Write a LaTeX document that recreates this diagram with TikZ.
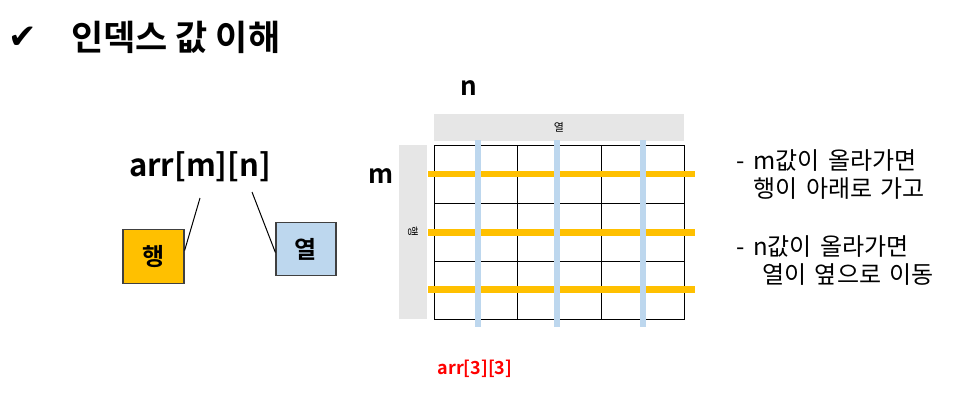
\documentclass[tikz,border=0pt]{standalone}
\usepackage{fontspec}
\setmainfont{Noto Sans CJK KR}[BoldFont={Noto Sans CJK KR Bold}]
\newfontfamily\symfont{DejaVu Sans}
\newcommand\widespacing{\spaceskip=0.36em\relax}
\definecolor{gold}{HTML}{FFC000}
\definecolor{lblue}{HTML}{BDD7EE}
\definecolor{lgray}{HTML}{E6E6E6}
\definecolor{bdr}{HTML}{404040}
\begin{document}
\begin{tikzpicture}[x=1pt,y=-1pt,
  lbl/.style={inner sep=0pt, anchor=center},
  tagbox/.style={draw=bdr, line width=1.2pt, inner sep=0pt, font=\bfseries\fontsize{24}{24}\selectfont},
  hbar/.style={gold, line width=6.5pt},
  vbar/.style={lblue, line width=6pt},
  note/.style={inner sep=0pt, anchor=west, align=left, font=\fontsize{24}{28}\selectfont\widespacing}]
\useasboundingbox (0,0) rectangle (969,400);
% title
\node[lbl] (chk) at (23,38) {\symfont\bfseries\fontsize{34}{34}\selectfont ✔};
\node[lbl, anchor=west] (title) at (71,37) {\bfseries\fontsize{35}{35}\selectfont 인덱스 값 이해};
% arr[m][n]
\node[lbl] (arr) at (200,167) {\bfseries\fontsize{31}{31}\selectfont arr[m][n]};
\node[tagbox, fill=gold, minimum width=61pt, minimum height=54pt] (row) at (153.5,256.5) {행};
\node[tagbox, fill=lblue, minimum width=60pt, minimum height=53pt] (col) at (306,249) {열};
\coordinate (a1) at (200,198);
\coordinate (a2) at (252,192);
\draw[line width=1pt] (a1) -- (row.east |- 0,250.5);
\draw[line width=1pt] (a2) -- (col.west |- 0,252.5);
% headers
\node[fill=lgray, minimum width=250pt, minimum height=27pt, inner sep=0pt] (colhdr) at (559,127) {\fontsize{11}{11}\selectfont 열};
\node[fill=lgray, minimum width=28pt, minimum height=174pt, inner sep=0pt] (rowhdr) at (413,232) {\rotatebox{-90}{\fontsize{11}{11}\selectfont 행}};
\node[lbl] (nlab) at (469,88) {\bfseries\fontsize{26}{26}\selectfont n};
\node[lbl] (mlab) at (381,176) {\bfseries\fontsize{26}{26}\selectfont m};
% grid
\coordinate (g0) at (434,145);
\coordinate (g1) at (684,319);
\draw[line width=1pt] (g0) rectangle (g1);
\foreach \x in {517.5,601} \draw[line width=1pt] (\x,145) -- (\x,319);
\foreach \y in {203,261} \draw[line width=1pt] (434,\y) -- (684,\y);
% bars
\foreach \y in {174,232.5,289.5} \draw[hbar] (428,\y) -- (695,\y);
\foreach \x in {477.5,557,642.5} \draw[vbar] (\x,140) -- (\x,327);
% notes
\node[note] (n1) at (736,174.5) {- m값이 올라가면\\\hspace*{17pt}행이 아래로 가고};
\node[note] (n2) at (736,261) {- n값이 올라가면\\\hspace*{26pt}열이 옆으로 이동};
% label
\node[lbl, text=red] (ex) at (475,369) {\bfseries\fontsize{18}{18}\selectfont arr[3][3]};
\end{tikzpicture}
\end{document}
